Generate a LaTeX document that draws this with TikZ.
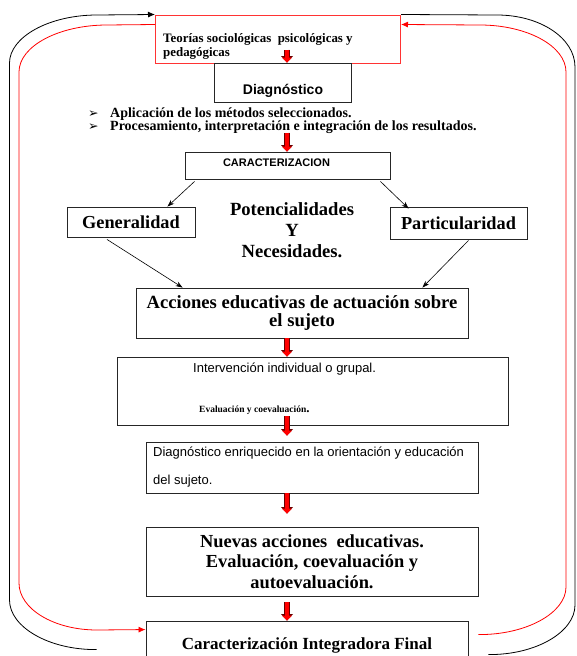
\documentclass[tikz,border=0pt]{standalone}
\usepackage{fontspec}
\setsansfont{Liberation Sans}
\newfontfamily\timesfont{Liberation Serif}
\newfontfamily\dingfont{DejaVu Sans}
\usetikzlibrary{arrows.meta,calc}

\begin{document}
\begin{tikzpicture}
  [
    x=1pt, y=-1pt,
    caja/.style =
      {draw=black!85, line width=0.9pt, rectangle, align=center, inner sep=0pt},
    texto/.style =
      {inner sep=0pt, anchor=base west},
    flecha/.style =
      {->, >={Stealth[length=7pt,width=5pt]}, line width=0.6pt},
    bloque/.style =
      {draw=red, line width=4pt, -{Triangle[length=5pt,width=10pt,line width=0pt]},
       preaction={draw=red!40!black, line width=5.4pt,
                  -{Triangle[length=6.4pt,width=12pt,line width=0pt]}}},
    lazo/.style =
      {line width=0.8pt, -{Latex[length=7pt,width=6pt]}}
  ]

\useasboundingbox (0,0) rectangle (576,656);
\coordinate (eje) at (287,0);

% cajas
\node[caja, draw=red!80, line width=1pt, minimum width=245pt, minimum height=48pt] (teorias) at (278,39) {};
\node[texto, align=left, font=\timesfont\bfseries\fontsize{12.9}{13.7}\selectfont] (teoriastxt) at (163,56)
  {Teorías sociológicas\ \ psicológicas y\\pedagógicas};

\node[caja, minimum width=137pt, minimum height=39pt, text height=24pt, text depth=0pt,
  font=\sffamily\bfseries\fontsize{14}{16}\selectfont] (diag) at (283,82.5) {Diagnóstico};

\node[texto, font=\timesfont\bfseries\fontsize{14}{15}\selectfont] (paso1) at (88,117.3)
  {\makebox[22pt][l]{\dingfont\mdseries\fontsize{12.5}{12.5}\selectfont ➢}Aplicación de los métodos seleccionados.};
\node[texto, font=\timesfont\bfseries\fontsize{14}{15}\selectfont] (paso2) at (88,130.7)
  {\makebox[22pt][l]{\dingfont\mdseries\fontsize{12.5}{12.5}\selectfont ➢}Procesamiento, interpretación e integración de los resultados.};

\node[caja, minimum width=205pt, minimum height=27pt, text depth=5pt,
  font=\sffamily\bfseries\fontsize{11}{13}\selectfont] (car) at (287.5,165.5) {CARACTERIZACION\hspace*{22pt}};

\node[caja, minimum width=128pt, minimum height=30pt, font=\timesfont\bfseries\fontsize{18.3}{20}\selectfont] (gen) at (131,222) {Generalidad};
\node[caja, minimum width=137pt, minimum height=32pt, font=\timesfont\bfseries\fontsize{18.3}{20}\selectfont] (part) at (458.5,223) {Particularidad};
\node[anchor=base, align=center, inner sep=0pt, font=\timesfont\bfseries\fontsize{18.6}{21}\selectfont] (pot) at (292,257)
  {Potencialidades\\Y\\Necesidades.};

\node[caja, minimum width=332pt, minimum height=50pt, font=\timesfont\bfseries\fontsize{18.6}{18.4}\selectfont] (acc) at (302,313)
  {Acciones educativas de actuación sobre\\el sujeto};

\node[caja, minimum width=391pt, minimum height=68pt] (interv) at (312.5,391) {};
\node[texto, font=\sffamily\fontsize{13}{15}\selectfont] (intervtxt) at (193,372.7) {Intervención individual o grupal.};
\node[texto, font=\timesfont\bfseries\fontsize{9.5}{11}\selectfont] (evaltxt) at (199,412.7)
  {Evaluación y coevaluación{\fontsize{13}{13}\selectfont.}};

\node[caja, minimum width=332pt, minimum height=51pt] (enriq) at (312,467.5) {};
\node[texto, font=\sffamily\fontsize{13}{15}\selectfont] (enriqtxt) at (153,456.7) {Diagnóstico enriquecido en la orientación y educación};
\node[texto, font=\sffamily\fontsize{13}{15}\selectfont] (sujetotxt) at (153,484.3) {del sujeto.};

\node[caja, minimum width=332pt, minimum height=69pt, font=\timesfont\bfseries\fontsize{18.4}{20.5}\selectfont] (nuevas) at (312,561.5)
  {Nuevas acciones\ \ educativas.\\Evaluación, coevaluación y\\autoevaluación.};

\node[caja, minimum width=322pt, minimum height=44pt, text height=17pt,
  font=\timesfont\bfseries\fontsize{17}{20}\selectfont] (final) at (307,643) {Caracterización Integradora Final};

% flechas rojas
\draw[bloque] ($(teorias.south -| eje)+(0,-14)$) -- (diag.north -| eje);
\draw[bloque] ($(paso2.base -| eje)+(0,2)$) -- (car.north -| eje);
\draw[bloque] (acc.south -| eje) -- (interv.north -| eje);
\draw[bloque] ($(interv.south -| eje)+(0,-9)$) -- ($(enriq.north -| eje)+(0,-6)$);
\draw[bloque] (enriq.south -| eje) -- ($(nuevas.north -| eje)+(0,-13)$);
\draw[bloque] ($(nuevas.south -| eje)+(0,6)$) -- (final.north -| eje);

% flechas finas
\draw[flecha] ($(car.south west)+(10,2)$) -- ($(gen.north east)+(-28,0)$);
\draw[flecha] ($(car.south east)+(-10,2)$) -- ($(part.north west)+(19,2)$);
\draw[flecha] ($(gen.south)+(-24,2)$) -- ($(acc.north west)+(47,0)$);
\draw[flecha] ($(part.south)+(10,1)$) -- ($(acc.north east)+(-46,0)$);

% lazos exteriores
\draw[lazo] ($(final.north west)+(-49,29)$) .. controls (49,650) and (9.5,627) .. (9.5,600)
  -- (9.5,63) .. controls (9.5,37) and (49,15) .. (97,15) -- (teorias.north west);
\draw[line width=0.8pt] ($(final.north east)+(20,34)$) .. controls (536,655) and (575,632) .. (575,605)
  -- (575,67) .. controls (575,38) and (540,15) .. (497,15) -- (teorias.north east);
\draw[lazo, draw=red] ($(teorias.north west)+(0,10)$) -- (107,25) .. controls (59,25) and (19,46) .. (19,72)
  -- (19,583) .. controls (19,609) and (54,630) .. (97,630) -- ($(final.north west)+(0,9)$);
\draw[lazo, draw=red] ($(final.north east)+(10,14)$) .. controls (526,635) and (566,613) .. (566,587)
  -- (566,72) .. controls (566,46) and (527,25) .. (480,25) -- ($(teorias.north east)+(0,10)$);

\end{tikzpicture}
\end{document}
